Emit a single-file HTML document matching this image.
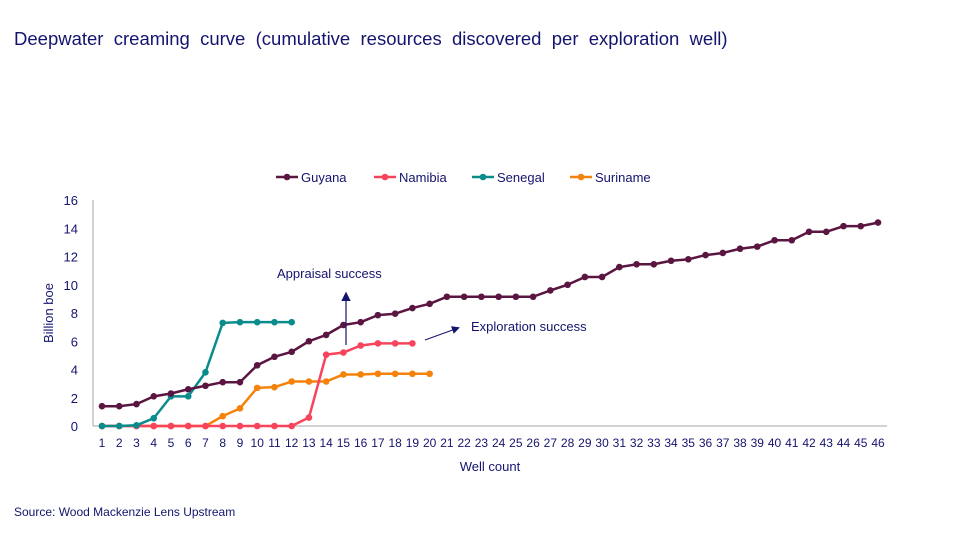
<!DOCTYPE html>
<html><head><meta charset="utf-8"><style>
body{margin:0;background:#fff;font-family:"Liberation Sans",sans-serif;}
#wrap{position:relative;width:960px;height:540px;overflow:hidden;}
.t{position:absolute;white-space:nowrap;}
</style></head><body>
<div id="wrap">
<div class="t" style="left:14px;top:28px;font-size:18.5px;color:#14146e;">Deepwater&nbsp; creaming&nbsp; curve&nbsp; (cumulative&nbsp; resources&nbsp; discovered&nbsp; per&nbsp; exploration&nbsp; well)</div>
<div class="t" style="left:14px;top:505px;font-size:12px;color:#14146e;">Source: Wood Mackenzie Lens Upstream</div>
<svg id="chart" width="960" height="540" style="position:absolute;left:0;top:0"></svg>
</div>
<script>
const wells=[];for(let i=1;i<=46;i++)wells.push(i);
const yTicks=[0,2,4,6,8,10,12,14,16];
const seriesNames=["Guyana","Namibia","Senegal","Suriname"];
const guyana=[1.4,1.4,1.55,2.1,2.3,2.6,2.85,3.1,3.1,4.3,4.9,5.25,6.0,6.45,7.15,7.35,7.85,7.95,8.35,8.65,9.15,9.15,9.15,9.15,9.15,9.15,9.6,10.0,10.55,10.55,11.25,11.45,11.45,11.7,11.8,12.1,12.25,12.55,12.7,13.15,13.15,13.75,13.75,14.15,14.15,14.4];
const namibia=[0,0,0,0,0,0,0,0,0,0,0,0,0.6,5.05,5.2,5.7,5.85,5.85,5.85];
const senegal=[0,0,0.05,0.55,2.1,2.1,3.8,7.3,7.35,7.35,7.35,7.35];
const suriname=[0,0,0,0,0,0,0,0.7,1.25,2.7,2.75,3.15,3.15,3.15,3.65,3.65,3.7,3.7,3.7,3.7];
const colors=["#5a1540","#f7445c","#0a8c8c","#f5820a"];
const svg=document.getElementById('chart');const NS="http://www.w3.org/2000/svg";
function mk(t,a,p){const e=document.createElementNS(NS,t);for(const k in a)e.setAttribute(k,a[k]);(p||svg).appendChild(e);return e;}
const x=w=>102+(w-1)*(878-102)/45;
const y=v=>426-v*(226/16);
let ax=mk('line',{x1:93,y1:200,x2:93,y2:426,stroke:'#a6a6a6','stroke-width':1});

let bx=mk('line',{x1:93,y1:426,x2:887,y2:426,stroke:'#a6a6a6','stroke-width':1});

yTicks.forEach(v=>{const t=mk('text',{x:78,y:y(v)+5,'text-anchor':'end','font-size':13,fill:'#14146e','font-family':'Liberation Sans'});t.textContent=v;
});
wells.forEach(w=>{const t=mk('text',{x:x(w),y:447,'text-anchor':'middle','font-size':12,fill:'#14146e','font-family':'Liberation Sans'});t.textContent=w;
});
let xt=mk('text',{x:490,y:471,'text-anchor':'middle','font-size':13,fill:'#14146e','font-family':'Liberation Sans'});xt.textContent="Well count";

let yt=mk('text',{x:53,y:313,'text-anchor':'middle','font-size':13,fill:'#14146e','font-family':'Liberation Sans',transform:'rotate(-90 53 313)'});yt.textContent="Billion boe";

const data=[guyana,namibia,senegal,suriname];
[3,1,2,0].forEach(si=>{const d=data[si];const g=mk('g',{});

mk('polyline',{points:d.map((v,i)=>x(i+1)+','+y(v)).join(' '),fill:'none',stroke:colors[si],'stroke-width':2.5,'stroke-linejoin':'round'},g);
d.forEach((v,i)=>{const c=mk('circle',{cx:x(i+1),cy:y(v),r:3.3,fill:colors[si]},g);
});});
const legX=[276,374,472,570];
seriesNames.forEach((n,i)=>{const g=mk('g',{});
mk('line',{x1:legX[i],y1:177,x2:legX[i]+22,y2:177,stroke:colors[i],'stroke-width':2.5},g);
mk('circle',{cx:legX[i]+11,cy:177,r:3.3,fill:colors[i]},g);
const t=mk('text',{x:legX[i]+25,y:182,'font-size':13,fill:'#14146e','font-family':'Liberation Sans'},g);t.textContent=n;});
mk('defs',{}).innerHTML='<marker id="ah" markerWidth="8" markerHeight="8" refX="6" refY="4" orient="auto"><path d="M0,0 L8,4 L0,8 z" fill="#14146e"/></marker>';
let a1=mk('line',{x1:346,y1:345,x2:346,y2:294,stroke:'#14146e','stroke-width':1.2,'marker-end':'url(#ah)'});

let t1=mk('text',{x:277,y:278,'font-size':13,fill:'#14146e','font-family':'Liberation Sans'});t1.textContent="Appraisal success";

let a2=mk('line',{x1:425,y1:340,x2:458,y2:328,stroke:'#14146e','stroke-width':1,'marker-end':'url(#ah)'});

let t2=mk('text',{x:471,y:331,'font-size':13,fill:'#14146e','font-family':'Liberation Sans'});t2.textContent="Exploration success";

</script></body></html>
